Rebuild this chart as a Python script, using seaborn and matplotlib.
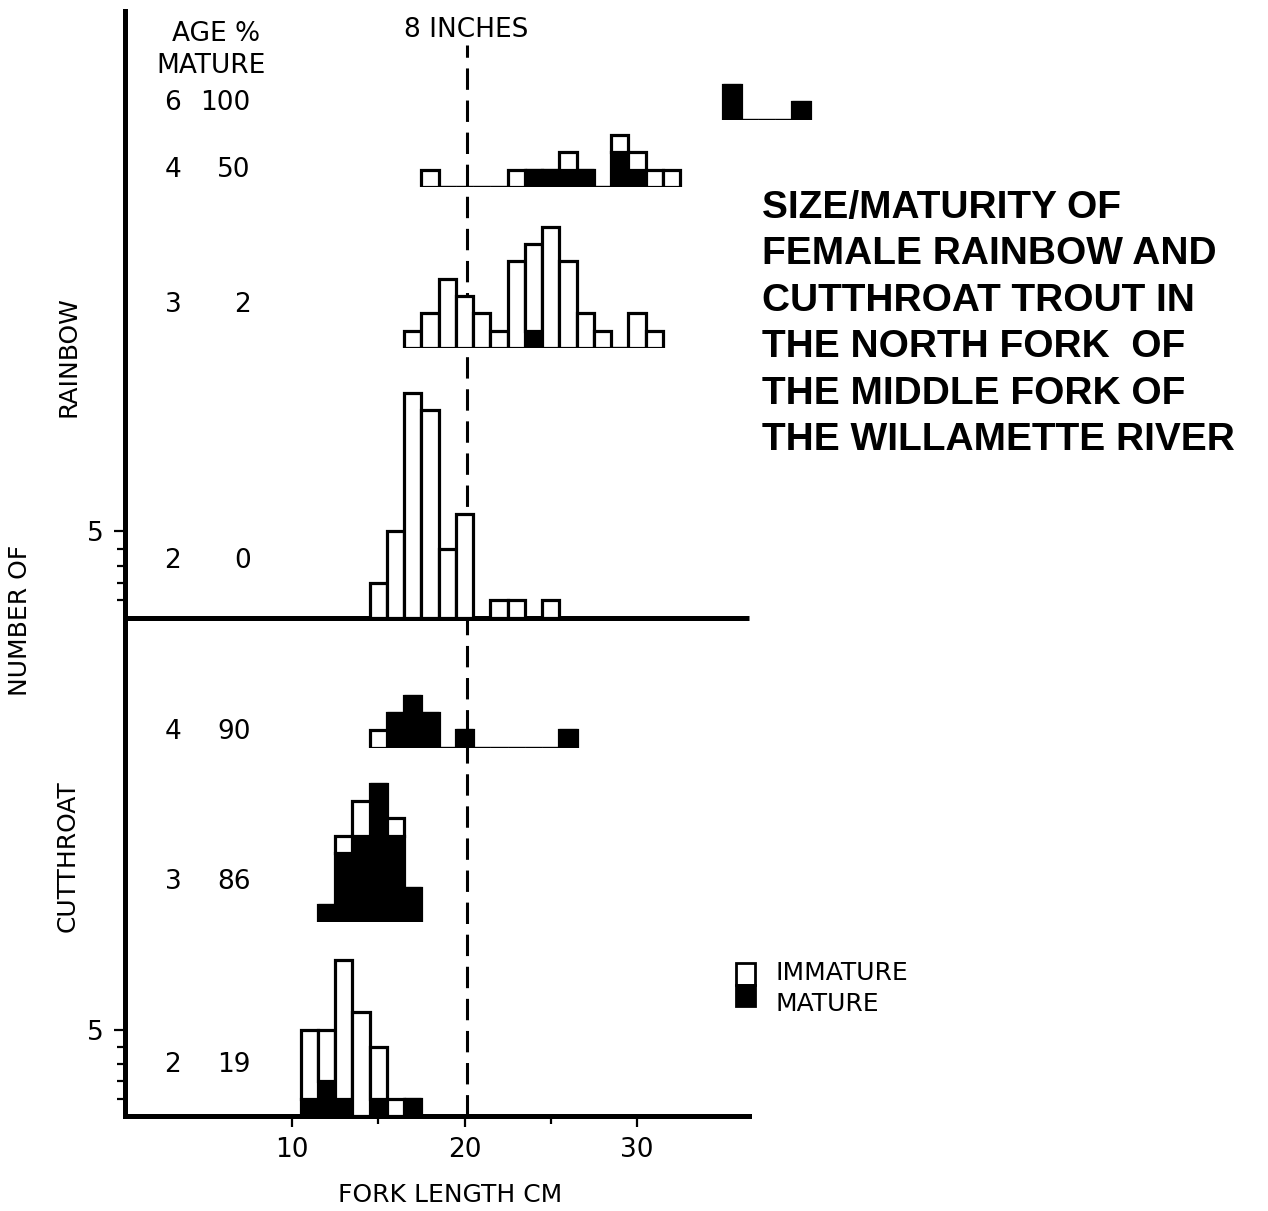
import numpy as np
import pandas as pd
import matplotlib.pyplot as plt
import seaborn as sns
from matplotlib.patches import Rectangle

# 1. Data: fork length bin (cm) and number of fish

rb6_len = [35.5, 39.5]
rb6_imm = [0, 0]
rb6_mat = [2, 1]

rb4_len = [18, 23, 24, 25, 26, 27, 29, 30, 31, 32]
rb4_imm = [1, 1, 0, 0, 1, 0, 1, 1, 1, 1]
rb4_mat = [0, 0, 1, 1, 1, 1, 2, 1, 0, 0]

rb3_len = [17, 18, 19, 20, 21, 22, 23, 24, 25, 26, 27, 28, 30, 31]
rb3_imm = [1, 2, 4, 3, 2, 1, 5, 5, 7, 5, 2, 1, 2, 1]
rb3_mat = [0, 0, 0, 0, 0, 0, 0, 1, 0, 0, 0, 0, 0, 0]

rb2_len = [15, 16, 17, 18, 19, 20, 22, 23, 25]
rb2_imm = [2, 5, 13, 12, 4, 6, 1, 1, 1]
rb2_mat = [0, 0, 0, 0, 0, 0, 0, 0, 0]

ct4_len = [15, 16, 17, 18, 20, 26]
ct4_imm = [1, 0, 0, 0, 0, 0]
ct4_mat = [0, 2, 3, 2, 1, 1]

ct3_len = [12, 13, 14, 15, 16, 17]
ct3_imm = [0, 1, 2, 0, 1, 0]
ct3_mat = [1, 4, 5, 8, 5, 2]

ct2_len = [11, 12, 13, 14, 15, 16, 17]
ct2_imm = [4, 3, 8, 6, 3, 1, 0]
ct2_mat = [1, 2, 1, 0, 1, 0, 1]

ages = ['6', '4', '3', '2', '4', '3', '2']
pct_mature = ['100', '50', '2', '0', '90', '86', '19']
eight_inches = 20.15  # where the dashed 8" mark sits on the scan

rows = [(rb6_len, rb6_imm, rb6_mat), (rb4_len, rb4_imm, rb4_mat),
        (rb3_len, rb3_imm, rb3_mat), (rb2_len, rb2_imm, rb2_mat),
        (ct4_len, ct4_imm, ct4_mat), (ct3_len, ct3_imm, ct3_mat),
        (ct2_len, ct2_imm, ct2_mat)]

# 2. Layout (pixels of the original page -> data units)

W, H = 1268, 1211
PX_CM = 17.25
PX_N = 17.3
X0_PX = 119.5
Y0_PX = 1116
row_base = [57.6, 53.7, 44.4, 28.8, 21.3, 11.2, 0.0]
label_y = [58.55, 54.7, 46.9, 32.1, 22.2, 13.5, 2.95]
xl = (0.32, 42.0)
top_n = 63.9
x_end = 36.5

sns.set_style('white')
plt.rcParams['font.family'] = ['DejaVu Sans']
for key in ['text.color', 'axes.edgecolor', 'axes.labelcolor', 'xtick.color', 'ytick.color']:
    plt.rcParams[key] = 'black'

fig = plt.figure(figsize=(W / 100, H / 100), dpi=100)
left_px = X0_PX + xl[0] * PX_CM
right_px = X0_PX + xl[1] * PX_CM
ax = fig.add_axes([left_px / W, 1 - Y0_PX / H, (right_px - left_px) / W, top_n * PX_N / H])
ax.set_xlim(*xl)
ax.set_ylim(0, top_n)
ax.patch.set_alpha(0)
for s in ['top', 'right']:
    ax.spines[s].set_visible(False)
ax.spines['left'].set_linewidth(3.6)
ax.spines['bottom'].set_linewidth(3.6)
ax.spines['left'].set_bounds(0, top_n)
ax.spines['bottom'].set_bounds(xl[0], x_end)
ax.plot([xl[0], x_end], [row_base[3], row_base[3]], color='black', lw=3.6, solid_capstyle='butt')

ax.set_xticks([10, 20, 30])
ax.set_xticks([15, 25], minor=True)
ax.set_yticks([5, row_base[3] + 5])
ax.set_yticklabels(['5', '5'])
ax.set_yticks([1, 2, 3, 4] + [row_base[3] + k for k in [1, 2, 3, 4]], minor=True)
ax.tick_params(which='major', direction='out', length=8, width=1.6, labelsize=19, pad=7,
               color='black', labelcolor='black')
ax.tick_params(which='minor', direction='out', length=6, width=1.6, color='black')
ax.tick_params(axis='x', which='both', bottom=True)
ax.tick_params(axis='y', which='both', left=True)

# dashed 8 inch line
ax.plot([eight_inches, eight_inches], [0, 61.9], color='black', lw=2.2, dashes=(7, 3.5))
ax.text(20.1, 62.8, '8 INCHES', ha='center', va='center', fontsize=19)
ax.text(5.6, 62.55, 'AGE %', ha='center', va='center', fontsize=19)
ax.text(5.3, 60.7, 'MATURE', ha='center', va='center', fontsize=19)

# 3. One small histogram per age group, stacked mature (black) under immature (white)

for (lens, imm, mat), base, ly, age, pct in zip(rows, row_base, label_y, ages, pct_mature):
    df = pd.DataFrame({
        'length': list(lens) + list(lens),
        'count': list(imm) + list(mat),
        'stage': ['IMMATURE'] * len(lens) + ['MATURE'] * len(lens),
    })
    h = 16
    iax = ax.inset_axes([xl[0], base, xl[1] - xl[0], h], transform=ax.transData)
    sns.histplot(data=df, x='length', weights='count', hue='stage',
                 hue_order=['IMMATURE', 'MATURE'], multiple='stack', discrete=True,
                 palette={'IMMATURE': 'white', 'MATURE': 'black'}, alpha=1,
                 edgecolor='black', linewidth=2.3, legend=False, ax=iax)
    iax.set_xlim(*xl)
    iax.set_ylim(0, h)
    iax.set_xlabel('')
    iax.set_ylabel('')
    iax.set_xticks([])
    iax.set_yticks([])
    iax.axis('off')
    ax.text(3.1, ly, age, ha='center', va='center', fontsize=19)
    ax.text(7.6, ly, pct, ha='right', va='center', fontsize=19)

# 4. Outer labels, title and key

fig.text(20 / W, 1 - 620 / H, 'NUMBER OF', rotation=90, ha='center', va='center', fontsize=18)
fig.text(68 / W, 1 - 357 / H, 'RAINBOW', rotation=90, ha='center', va='center', fontsize=18)
fig.text(68 / W, 1 - 856 / H, 'CUTTHROAT', rotation=90, ha='center', va='center', fontsize=18)
fig.text(450 / W, 1 - 1195 / H, 'FORK LENGTH CM', ha='center', va='center', fontsize=18)

title_lines = ['SIZE/MATURITY OF', 'FEMALE RAINBOW AND', 'CUTTHROAT TROUT IN',
               'THE NORTH FORK  OF', 'THE MIDDLE FORK OF', 'THE WILLAMETTE RIVER']
for i, line in enumerate(title_lines):
    fig.text(762 / W, 1 - (218 + 46.4 * i) / H, line, ha='left', va='baseline',
             fontsize=28, fontweight='bold', family=['Liberation Sans', 'DejaVu Sans'])

fig.add_artist(Rectangle((736 / W, 1 - 985 / H), 19 / W, 22 / H, transform=fig.transFigure,
                         facecolor='white', edgecolor='black', lw=2))
fig.add_artist(Rectangle((736 / W, 1 - 1006 / H), 19 / W, 21 / H, transform=fig.transFigure,
                         facecolor='black', edgecolor='black', lw=2))
fig.text(775 / W, 1 - 973 / H, 'IMMATURE', ha='left', va='center', fontsize=18)
fig.text(775 / W, 1 - 1004 / H, 'MATURE', ha='left', va='center', fontsize=18)

fig.savefig('out.png', dpi=100, facecolor='white')
